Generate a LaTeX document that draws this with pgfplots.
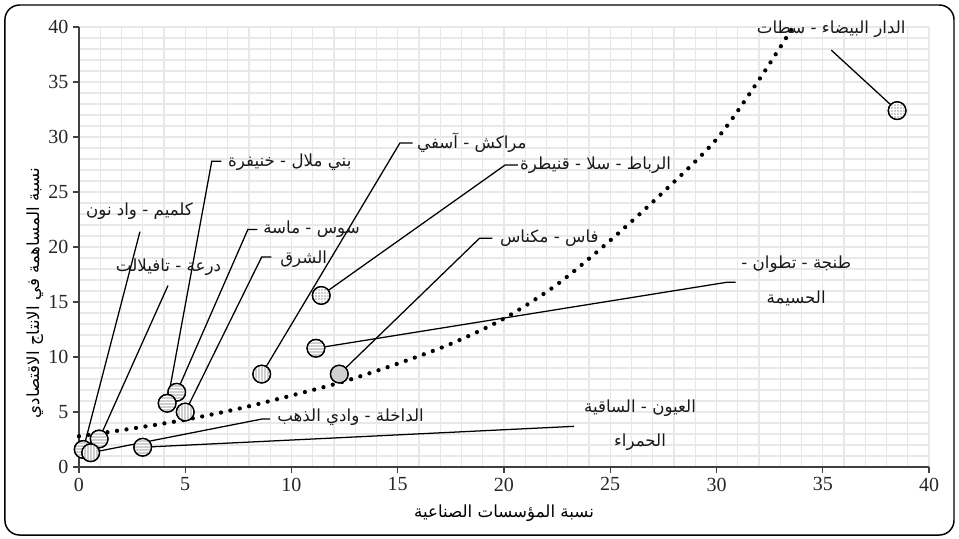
\documentclass[border=0pt]{standalone}
\usepackage{fontspec}
\usepackage{pgfplots}
\pgfplotsset{compat=1.18}
\usetikzlibrary{patterns.meta}
\setmainfont{Liberation Serif}
\newfontfamily\arabicfont[Script=Arabic]{DejaVu Sans}
\TeXXeTstate=1
\definecolor{gridgray}{HTML}{E8E8E8}
\definecolor{axgray}{HTML}{404040}
\tikzdeclarepattern{
  name=finedots,
  type=uncolored,
  bottom left={(0pt,0pt)}, top right={(1.8pt,1.8pt)},
  tile size={(1.8pt,1.8pt)},
  code={\fill (0.9pt,0.9pt) circle (0.55pt);}
}

\begin{document}
\begin{tikzpicture}
\begin{axis}[
    scale only axis,
    width=637.5pt, height=330pt,
    xmin=0, xmax=40, ymin=0, ymax=40,
    xtick distance=5, ytick distance=5,
    minor tick num=4,
    grid=both,
    major grid style={gridgray, line width=1pt},
    minor grid style={gridgray, line width=1pt},
    axis lines*=left,
    axis line style={axgray, line width=0.9pt},
    tick style={axgray, line width=0.9pt},
    tick align=outside,
    major tick length=4.5pt,
    minor tick length=0pt,
    /pgf/number format/assume math mode=true,
    tick label style={font=\rmfamily\fontsize{15}{16}\selectfont, text=black!85},
    xlabel={\beginR نسبة المؤسسات الصناعية\endR},
    ylabel={\beginR نسبة المساهمة في الانتاج الاقتصادي\endR},
    every axis label/.append style={font=\arabicfont\fontsize{12.5}{14}\selectfont},
    xlabel style={at={(axis description cs:0.5,-0.1045)}, anchor=center},
    ylabel style={at={(axis description cs:-0.052,0.395)}, anchor=center},
    clip=false,
]
% frame and page area
\path (axis description cs:-0.0929,-0.1614) rectangle (axis description cs:1.0353,1.0614);
\draw[black, line width=1.1pt, rounded corners=11pt]
    (axis description cs:-0.0871,-0.1545) rectangle (axis description cs:1.0294,1.05);

% trend line
\addplot[black, line width=3.2pt, line cap=round, dash pattern=on 0pt off 7.2pt, smooth]
coordinates {(0,2.8) (2.5,3.5) (5,4.3) (7.5,5.3) (10,6.5) (12.5,7.8) (15,9.4)
 (17.5,11.2) (20,13.5) (22.5,16.6) (25,20.6) (27.5,25.0) (30,29.8) (32,35.2) (33.6,40)};

% leader lines
\begin{scope}[black, line width=0.95pt]
\draw (axis cs:38.5,32.4) -- (axis cs:35.4,37.9);
\draw (axis cs:8.6,8.45) -- (axis cs:15.1,29.45) -- (axis cs:15.7,29.45);
\draw (axis cs:11.4,15.6) -- (axis cs:20.05,27.45) -- (axis cs:20.65,27.45);
\draw (axis cs:12.25,8.45) -- (axis cs:18.85,20.8) -- (axis cs:19.45,20.8);
\draw (axis cs:11.15,10.8) -- (axis cs:30.5,16.8) -- (axis cs:30.9,16.8);
\draw (axis cs:3.0,1.8) -- (axis cs:23.3,3.7);
\draw (axis cs:0.55,1.3) -- (axis cs:8.6,4.36) -- (axis cs:9.0,4.36);
\draw (axis cs:5.0,5.0) -- (axis cs:8.6,19.1) -- (axis cs:9.05,19.1);
\draw (axis cs:4.6,6.8) -- (axis cs:7.95,21.6) -- (axis cs:8.4,21.6);
\draw (axis cs:4.15,5.8) -- (axis cs:6.25,27.8) -- (axis cs:6.7,27.8);
\draw (axis cs:0.2,1.6) -- (axis cs:2.87,21.4);
\draw (axis cs:0.95,2.55) -- (axis cs:4.19,16.5);
\end{scope}

% regions
\addplot[only marks, mark=none, nodes near coords={},
  every node near coord/.style={circle, draw=black, line width=0.9pt,
    preaction={fill=white}, pattern={finedots}, pattern color=black!80,
    inner sep=0pt, minimum size=13.3pt, anchor=center}]
coordinates {(38.5,32.4) (11.4,15.6) (11.15,10.8) (12.25,8.45) (8.6,8.45)
 (4.6,6.8) (4.15,5.8) (5.0,5.0) (0.95,2.55) (0.2,1.6) (0.55,1.3) (3.0,1.8)};

% labels
\begin{scope}[every node/.style={font=\arabicfont\fontsize{12.5}{26}\selectfont, inner sep=0pt, text=black!90}]
\node at (axis cs:35.4,39.8) {\beginR الدار البيضاء - سطات\endR};
\node[anchor=west] at (axis cs:15.9,29.45) {\beginR مراكش - آسفي\endR};
\node[anchor=west] at (axis cs:20.75,27.45) {\beginR الرباط - سلا - قنيطرة\endR};
\node[anchor=west] at (axis cs:19.8,20.8) {\beginR فاس - مكناس\endR};
\node[align=center] at (axis cs:33.75,16.9) {\beginR طنجة - تطوان -\endR\\\beginR الحسيمة\endR};
\node[align=center] at (axis cs:26.4,3.8) {\beginR العيون - الساقية\endR\\\beginR الحمراء\endR};
\node[anchor=west] at (axis cs:9.32,4.5) {\beginR الداخلة - وادي الذهب\endR};
\node[anchor=west] at (axis cs:9.46,18.9) {\beginR الشرق\endR};
\node[anchor=west] at (axis cs:8.66,21.6) {\beginR سوس - ماسة\endR};
\node[anchor=west] at (axis cs:7.01,27.7) {\beginR بني ملال - خنيفرة\endR};
\node at (axis cs:2.85,23.3) {\beginR كلميم - واد نون\endR};
\node at (axis cs:4.21,18.2) {\beginR درعة - تافيلالت\endR};
\end{scope}
\end{axis}
\end{tikzpicture}
\end{document}
